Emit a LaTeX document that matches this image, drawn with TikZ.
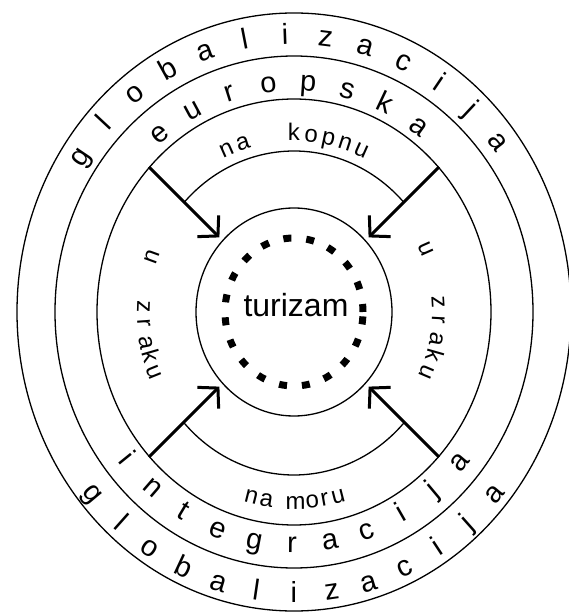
\documentclass[tikz,border=0pt]{standalone}
\usepackage{fontspec}
\setmainfont{Liberation Sans}
\usetikzlibrary{arrows.meta,shapes.geometric}

\tikzset{
  ring/.style={draw, ellipse, inner sep=0pt, line width=1.3pt},
  bigchar/.style={font=\fontsize{29}{30}\selectfont, inner sep=0pt, anchor=base},
  smallchar/.style={font=\fontsize{24}{26}\selectfont, inner sep=0pt, anchor=base},
  push/.style={line width=3pt, -{Straight Barb[length=14pt,width=30pt]}, shorten >=4pt}
}

\begin{document}
\begin{tikzpicture}[x=1pt, y=1pt]
\useasboundingbox (-294,-301) rectangle (275,312);
% rings
\node[ring, minimum width=554pt, minimum height=598pt] (glob) at (0,0) {};
\node[ring, minimum width=478pt, minimum height=512pt] (eu) at (0,0) {};
\node[ring, minimum width=394pt, minimum height=426pt] (mode) at (0,0) {};
\node[ring, minimum width=196pt, minimum height=208pt] (core) at (0,0) {};
\node[draw, ellipse, inner sep=0pt, minimum width=138pt, minimum height=148pt,
      line width=7pt, dash pattern=on 8pt off 15pt] (dots) at (0,0) {};
\node[font=\fontsize{32}{34}\selectfont, inner sep=0pt, anchor=base] (tour) at (2,-5) {turizam};

% inner edges of the two bands
\draw[line width=1.3pt] (43:150pt and 161pt) arc[start angle=43, end angle=137, x radius=150pt, y radius=161pt];
\draw[line width=1.3pt] (223:150pt and 163pt) arc[start angle=223, end angle=317, x radius=150pt, y radius=163pt];

% arrows
\foreach \a in {45,135,225,315}
  \draw[push] (mode.\a) -- (core.\a);

% outer ring
\foreach \ch [count=\i] in {g,l,o,b,a,l,i,z,a,c,i,j,a} {
  \pgfmathsetmacro\a{146-(\i-1)*9}
  \node[bigchar, rotate=\a-90] (gtop\i) at (\a:250pt and 268pt) {\ch};
}
\foreach \ch [count=\i] in {g,l,o,b,a,l,i,z,a,c,i,j,a} {
  \pgfmathsetmacro\a{220+(\i-1)*8.33}
  \node[bigchar, rotate=\a+90] (gbot\i) at (\a:270pt and 291pt) {\ch};
}

% middle ring
\foreach \ch [count=\i] in {e,u,r,o,p,s,k,a} {
  \pgfmathsetmacro\a{129-(\i-1)*10.7}
  \node[bigchar, rotate=\a-90] (eu\i) at (\a:205pt and 221pt) {\ch};
}
\foreach \ch [count=\i] in {i,n,t,e,g,r,a,c,i,j,a} {
  \pgfmathsetmacro\a{219+(\i-1)*10.1}
  \node[bigchar, rotate=\a+90] (int\i) at (\a:224pt and 241pt) {\ch};
}

% bands
\foreach \ch/\a [count=\i] in {n/114,a/108,k/90,o/84,p/78,n/72,u/66}
  \node[smallchar, rotate=\a-90] (land\i) at (\a:159pt and 171pt) {\ch};
\foreach \ch/\a [count=\i] in {n/256,a/261,m/270.5,o/276,r/280,u/284.5}
  \node[smallchar, rotate=\a+90] (sea\i) at (\a:183pt and 197pt) {\ch};
\foreach \ch/\a [count=\i] in {u/160,z/178,r/184,a/191,k/196,u/202}
  \node[smallchar, rotate=\a+90] (airl\i) at (\a:157pt and 168pt) {\ch};
\foreach \ch/\a [count=\i] in {u/24,z/3.5,r/-3,a/-10,k/-16,u/-23}
  \node[smallchar, rotate=\a-90] (airr\i) at (\a:138pt and 148pt) {\ch};
\end{tikzpicture}
\end{document}
